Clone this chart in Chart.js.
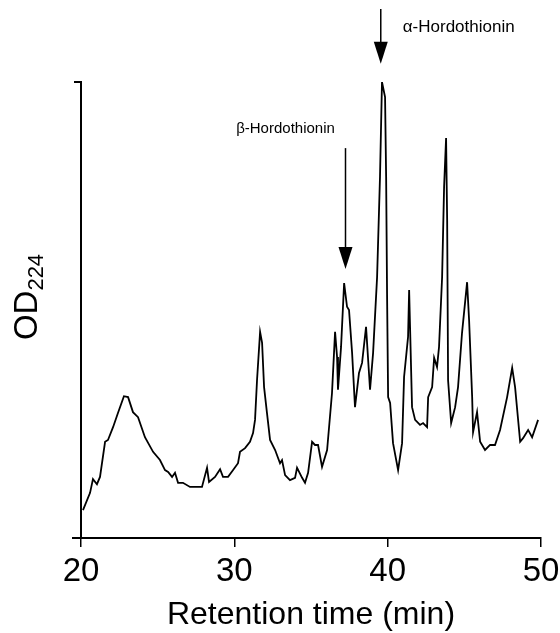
<!DOCTYPE html>
<html>
<head>
<meta charset="utf-8">
<script src="https://cdn.jsdelivr.net/npm/chart.js@4/dist/chart.umd.min.js"></script>
<style>
  html, body { margin: 0; padding: 0; background: #fff; }
  #wrap { width: 560px; height: 633px; }
</style>
</head>
<body>
<div id="wrap"><canvas id="chromatogram" width="560" height="633"></canvas></div>
<script>
// retention time (min) and OD224 (relative, axis top = 100)
var retentionTime = [20.13, 20.59, 20.78, 21.04, 21.24, 21.57, 21.76, 22.09, 22.41, 22.80,
  23.07, 23.39, 23.72, 24.17, 24.70, 25.15, 25.48, 25.68, 25.94, 26.13,
  26.33, 26.65, 27.11, 27.76, 27.89, 28.22, 28.35, 28.74, 29.07, 29.26,
  29.59, 29.92, 30.24, 30.37, 30.70, 31.02, 31.22, 31.35, 31.48, 31.68,
  31.81, 31.94, 32.13, 32.33, 32.66, 32.98, 33.11, 33.31, 33.63, 33.96,
  34.09, 34.42, 34.61, 34.81, 35.07, 35.26, 35.46, 35.72, 36.05, 36.37,
  36.57, 36.70, 36.76, 36.96, 37.16, 37.35, 37.48, 37.68, 37.87, 38.13,
  38.33, 38.59, 38.85, 39.05, 39.31, 39.50, 39.63, 39.83, 39.90, 39.96,
  40.03, 40.16, 40.35, 40.68, 40.94, 41.07, 41.33, 41.40, 41.46, 41.59,
  41.79, 42.11, 42.31, 42.57, 42.64, 42.90, 43.03, 43.22, 43.35, 43.55,
  43.68, 43.81, 43.88, 43.94, 44.14, 44.40, 44.59, 44.85, 45.18, 45.31,
  45.51, 45.57, 45.83, 46.03, 46.35, 46.68, 47.00, 47.33, 47.79, 48.12,
  48.31, 48.64, 48.83, 49.16, 49.42, 49.81];
var od224 = [6.1, 9.9, 12.9, 11.8, 13.4, 21.1, 21.5, 24.3, 27.4, 31.1,
  30.9, 27.6, 26.5, 22.1, 18.9, 17.1, 14.9, 14.5, 13.4, 14.3,
  12.1, 12.1, 11.2, 11.2, 11.2, 15.4, 12.3, 13.4, 15.1, 13.4,
  13.4, 14.9, 16.4, 18.9, 19.7, 21.1, 23.0, 25.9, 34.6, 45.2,
  42.8, 33.1, 27.4, 21.5, 19.3, 16.4, 17.1, 13.8, 12.7, 13.2,
  15.4, 13.2, 12.1, 14.3, 21.1, 20.4, 20.4, 15.6, 19.3, 31.8,
  45.2, 39.7, 32.5, 41.9, 55.9, 50.7, 50.0, 40.6, 28.7, 36.2,
  38.4, 46.3, 32.5, 40.6, 57.2, 79.2, 100.0, 96.7, 79.2, 53.7,
  30.9, 29.6, 20.8, 14.9, 20.8, 35.3, 44.1, 54.4, 46.3, 28.7,
  25.9, 24.8, 25.2, 24.3, 30.9, 33.1, 39.5, 37.5, 41.9, 57.2,
  77.0, 87.7, 69.7, 34.6, 25.2, 28.7, 33.1, 45.0, 56.1, 47.8,
  30.9, 23.2, 27.6, 21.1, 19.3, 20.4, 20.4, 23.7, 30.9, 37.3,
  33.1, 21.1, 21.9, 23.7, 22.1, 25.9];
var xTicks = [20, 30, 40, 50];

// peak markers: label, retention time, arrow top / tip (OD units)
var peakNames = ['\u03b2-Hordothionin', '\u03b1-Hordothionin'];
var peakTimes = [37.25, 39.55];
var arrowTop = [85.5, 116];
var arrowTip = [59, 104];

var points = retentionTime.map(function(t, i) { return {x: t, y: od224[i]}; });

var fontName = '"Liberation Sans", Arial, Helvetica, sans-serif';

var extras = {
  id: 'extras',
  afterDraw: function(chart) {
    var ctx = chart.ctx;
    var xs = chart.scales.x, ys = chart.scales.y;
    var area = chart.chartArea;
    ctx.save();
    ctx.strokeStyle = '#000';
    ctx.fillStyle = '#000';
    ctx.lineWidth = 2;
    // little cap on top of y axis, and x axis stub left of the y axis
    ctx.beginPath();
    ctx.moveTo(area.left - 7, area.top);
    ctx.lineTo(area.left + 1, area.top);
    ctx.moveTo(area.left - 9, area.bottom);
    ctx.lineTo(area.left, area.bottom);
    ctx.stroke();

    // y axis label OD224
    ctx.save();
    ctx.translate(37, 297);
    ctx.rotate(-Math.PI / 2);
    ctx.textBaseline = 'alphabetic';
    ctx.textAlign = 'left';
    ctx.font = '33px ' + fontName;
    var w1 = ctx.measureText('OD').width;
    ctx.font = '22px ' + fontName;
    var w2 = ctx.measureText('224').width;
    var start = -(w1 + w2) / 2;
    ctx.font = '33px ' + fontName;
    ctx.fillText('OD', start, 0);
    ctx.font = '22px ' + fontName;
    ctx.fillText('224', start + w1, 6);
    ctx.restore();

    // arrows and peak names
    ctx.lineWidth = 1.5;
    ctx.textBaseline = 'middle';
    for (var i = 0; i < peakNames.length; i++) {
      var px = xs.getPixelForValue(peakTimes[i]);
      var top = ys.getPixelForValue(arrowTop[i]);
      var tip = ys.getPixelForValue(arrowTip[i]);
      ctx.beginPath();
      ctx.moveTo(px, top);
      ctx.lineTo(px, tip - 20);
      ctx.stroke();
      ctx.beginPath();
      ctx.moveTo(px - 7, tip - 22);
      ctx.lineTo(px + 7, tip - 22);
      ctx.lineTo(px, tip);
      ctx.closePath();
      ctx.fill();
      if (i === 0) {
        ctx.font = '15px ' + fontName;
        ctx.textAlign = 'center';
        ctx.fillText(peakNames[i], px - 60, top - 19);
      } else {
        ctx.font = '17px ' + fontName;
        ctx.textAlign = 'left';
        ctx.fillText(peakNames[i], px + 22, top + 18);
      }
    }
    ctx.restore();
  }
};

new Chart(document.getElementById('chromatogram').getContext('2d'), {
  type: 'scatter',
  data: {
    datasets: [{
      data: points,
      showLine: true,
      borderColor: '#000',
      borderWidth: 1.8,
      pointRadius: 0,
      tension: 0,
      fill: false
    }]
  },
  options: {
    responsive: false,
    animation: false,
    events: [],
    layout: { padding: { left: 81, top: 82, right: 19, bottom: 0 } },
    plugins: { legend: { display: false }, tooltip: { enabled: false } },
    scales: {
      x: {
        type: 'linear',
        min: 20,
        max: 50,
        afterBuildTicks: function(s) { s.ticks = xTicks.map(function(v) { return {value: v}; }); },
        afterFit: function(s) { s.height = 95; s.paddingLeft = 0; s.paddingRight = 0; },
        border: { display: true, color: '#000', width: 2 },
        grid: { drawOnChartArea: false, drawTicks: true, tickLength: 9, color: '#000', lineWidth: 1.5 },
        ticks: { color: '#000', padding: 5, maxRotation: 0, font: { family: fontName, size: 33 } },
        title: {
          display: true,
          text: 'Retention time (min)',
          color: '#000',
          padding: { top: 0, bottom: 0 },
          font: { family: fontName, size: 32, lineHeight: 1.1 }
        }
      },
      y: {
        min: 0,
        max: 100,
        afterFit: function(s) { s.width = 0; },
        border: { display: true, color: '#000', width: 2 },
        grid: { display: false },
        ticks: { display: false }
      }
    }
  },
  plugins: [extras]
});
</script>
</body>
</html>
